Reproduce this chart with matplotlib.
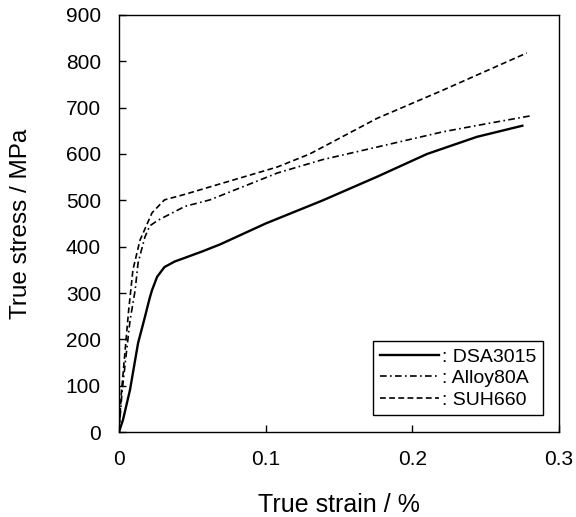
import matplotlib
matplotlib.use("Agg")
import matplotlib.pyplot as plt

plt.rcParams['font.family'] = ['Liberation Sans', 'DejaVu Sans']

# courbes (déformation, contrainte)
dsa_strain = [0, 0.0027, 0.0075, 0.013, 0.017, 0.021, 0.0225, 0.026, 0.031, 0.038, 0.045,
              0.057, 0.069, 0.1, 0.139, 0.176, 0.21, 0.244, 0.275]
dsa_stress = [0, 26, 91, 192, 240, 290, 306, 335, 356, 368, 376,
              390, 405, 450, 500, 551, 600, 637, 661]

alloy_strain = [0, 0.002, 0.005, 0.0075, 0.011, 0.013, 0.0177, 0.021, 0.0266, 0.045,
                0.062, 0.108, 0.139, 0.176, 0.221, 0.25, 0.28]
alloy_stress = [0, 84, 170, 240, 306, 365, 421, 445, 457, 487,
                501, 559, 588, 615, 648, 665, 682]

suh_strain = [0, 0.0015, 0.004, 0.0065, 0.0095, 0.0143, 0.0225, 0.031, 0.045, 0.062,
              0.108, 0.13, 0.139, 0.176, 0.221, 0.278]
suh_stress = [0, 80, 170, 260, 350, 414, 473, 501, 513, 529,
              572, 600, 615, 677, 738, 818]

labels = [": DSA3015", ": Alloy80A", ": SUH660"]

fig, ax = plt.subplots(figsize=(5.76, 5.17), dpi=100)
fig.subplots_adjust(left=0.2066, right=0.9705, top=0.971, bottom=0.1644)

ax.plot(dsa_strain, dsa_stress, color='black', lw=1.7, ls='-', label=labels[0])
ax.plot(alloy_strain, alloy_stress, color='black', lw=1.2, ls=(0, (4, 2, 1, 2)), label=labels[1])
ax.plot(suh_strain, suh_stress, color='black', lw=1.2, ls=(0, (3.5, 2)), label=labels[2])

ax.set_xlim(0, 0.3)
ax.set_ylim(0, 900)
ax.set_xticks([0, 0.1, 0.2, 0.3])
ax.set_xticklabels(["0", "0.1", "0.2", "0.3"])
ax.set_yticks(range(0, 901, 100))
ax.tick_params(direction='in', labelsize=15, length=5, width=1, pad=13)
for s in ax.spines.values():
    s.set_linewidth(1)

ax.set_xlabel("True strain / %", fontsize=18)
ax.set_ylabel("True stress / MPa", fontsize=17.5)
ax.xaxis.set_label_coords(0.5, -0.146)
ax.yaxis.set_label_coords(-0.198, 0.5)

leg = ax.legend(loc='lower right', bbox_to_anchor=(0.963, 0.04), fontsize=14,
                frameon=True, fancybox=False, edgecolor='black', framealpha=1,
                handlelength=3.0, handletextpad=0.15, borderpad=0.35,
                labelspacing=0.2, borderaxespad=0)
leg.get_frame().set_linewidth(1)

fig.savefig("out.png", dpi=100)
